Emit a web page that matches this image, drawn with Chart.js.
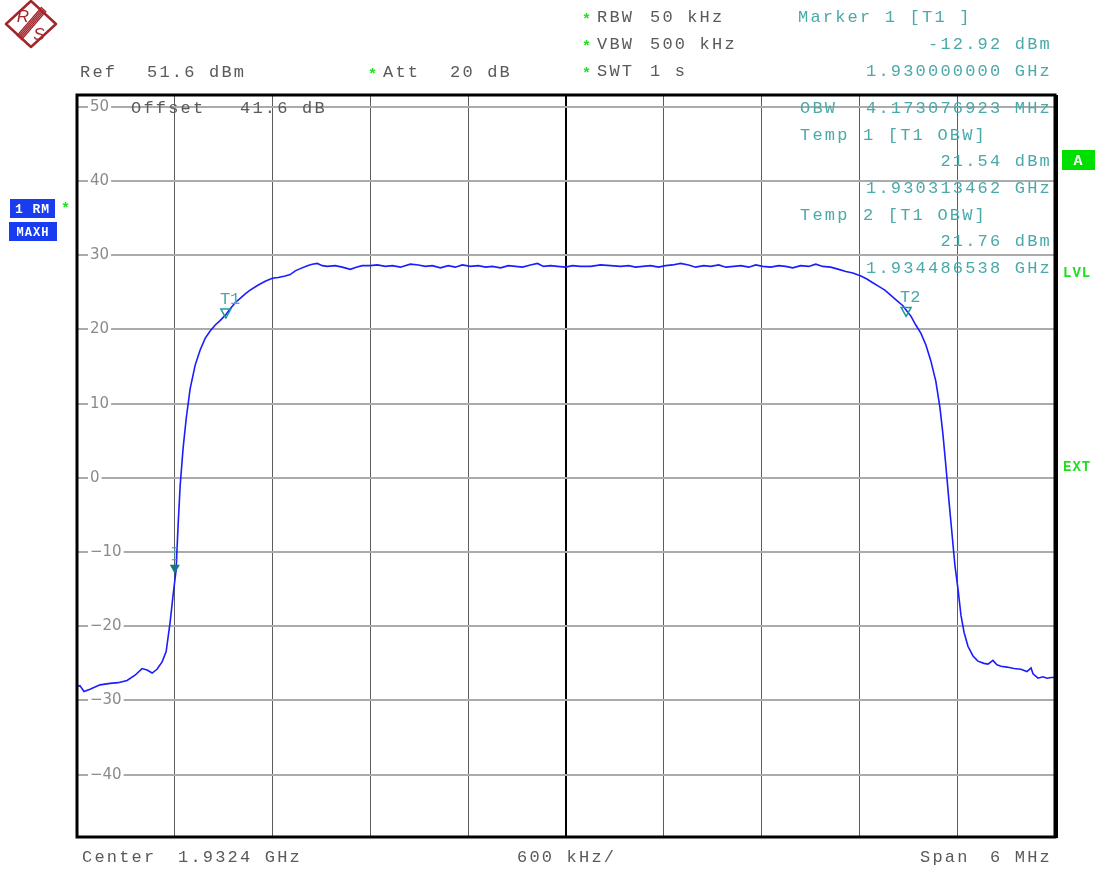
<!DOCTYPE html>
<html>
<head>
<meta charset="utf-8">
<title>Spectrum OBW</title>
<script src="https://cdn.jsdelivr.net/npm/chart.js@4.4.1/dist/chart.umd.min.js"></script>
<style>
  html, body { margin: 0; padding: 0; background: #fff; }
  #spec { display: block; }
</style>
</head>
<body>
<canvas id="spec" width="1105" height="871"></canvas>
<script>
// span 1.9294 .. 1.9354 GHz, 600 kHz/div
const startMHz = 1929.4
const spanMHz = 6
const divMHz = 0.6

// trace: offset from start (MHz) and level (dBm)
const traceOffsetMHz = [
  0, 0.018, 0.043, 0.080, 0.141, 0.203, 0.252, 0.307, 0.356, 0.399,
  0.430, 0.461, 0.491, 0.522, 0.547, 0.571, 0.590, 0.608, 0.620, 0.633,
  0.651, 0.670, 0.694, 0.725, 0.755, 0.786, 0.817, 0.848, 0.878, 0.909,
  0.940, 0.970, 1.001, 1.032, 1.062, 1.112, 1.155, 1.198, 1.234, 1.277,
  1.308, 1.339, 1.370, 1.413, 1.443, 1.474, 1.505, 1.535, 1.584, 1.627,
  1.677, 1.713, 1.750, 1.799, 1.842, 1.892, 1.935, 1.984, 2.045, 2.094,
  2.137, 2.180, 2.229, 2.278, 2.321, 2.364, 2.414, 2.463, 2.506, 2.549,
  2.598, 2.647, 2.690, 2.733, 2.782, 2.825, 2.862, 2.905, 2.948, 2.997,
  3.040, 3.089, 3.151, 3.212, 3.273, 3.335, 3.384, 3.427, 3.470, 3.519,
  3.568, 3.611, 3.654, 3.703, 3.752, 3.795, 3.845, 3.888, 3.937, 3.980,
  4.029, 4.072, 4.121, 4.164, 4.207, 4.256, 4.305, 4.348, 4.391, 4.440,
  4.489, 4.532, 4.575, 4.624, 4.673, 4.717, 4.760, 4.809, 4.846, 4.882,
  4.919, 4.956, 4.993, 5.030, 5.067, 5.091, 5.116, 5.146, 5.177, 5.208,
  5.238, 5.269, 5.294, 5.312, 5.331, 5.349, 5.368, 5.386, 5.405, 5.423,
  5.442, 5.466, 5.497, 5.527, 5.564, 5.589, 5.619, 5.644, 5.668, 5.705,
  5.748, 5.791, 5.828, 5.853, 5.865, 5.896, 5.926, 5.951, 5.976, 6.000
]
const traceDbm = [
  -28.1, -28.0, -28.8, -28.5, -27.9, -27.7, -27.6, -27.3, -26.6, -25.7,
  -25.9, -26.3, -25.8, -24.8, -23.4, -19.5, -15.7, -12.4, -6.5, -1.0,
  4.0, 8.0, 12.0, 15.2, 17.2, 18.8, 19.8, 20.6, 21.2, 21.9,
  22.8, 23.6, 24.2, 24.8, 25.3, 26.0, 26.5, 26.9, 27.0, 27.2,
  27.4, 27.9, 28.2, 28.6, 28.8, 28.9, 28.6, 28.5, 28.6, 28.4,
  28.1, 28.4, 28.6, 28.6, 28.7, 28.5, 28.6, 28.4, 28.8, 28.7,
  28.5, 28.6, 28.3, 28.6, 28.4, 28.7, 28.5, 28.6, 28.4, 28.5,
  28.3, 28.6, 28.5, 28.4, 28.7, 28.9, 28.5, 28.6, 28.5, 28.4,
  28.6, 28.5, 28.5, 28.7, 28.6, 28.5, 28.6, 28.4, 28.5, 28.6,
  28.4, 28.6, 28.7, 28.9, 28.7, 28.4, 28.6, 28.5, 28.7, 28.4,
  28.5, 28.6, 28.4, 28.7, 28.5, 28.4, 28.6, 28.5, 28.3, 28.6,
  28.5, 28.8, 28.5, 28.4, 28.1, 27.8, 27.6, 27.2, 26.8, 26.3,
  25.8, 25.3, 24.6, 23.9, 23.2, 22.5, 21.8, 20.6, 19.5, 17.9,
  15.8, 13.0, 9.5, 6.0, 1.5, -3.0, -7.5, -11.8, -15.0, -18.5,
  -20.8, -22.7, -24.0, -24.7, -25.0, -25.1, -24.6, -25.2, -25.4, -25.5,
  -25.7, -25.8, -26.1, -25.6, -26.4, -27.0, -26.8, -27.0, -26.9, -26.9
]

// markers: M1, T1, T2
const markerNames = ['M1', 'T1', 'T2']
const markerMHz = [1930.0, 1930.313462, 1934.486538]
const markerDbm = [-12.92, 21.54, 21.76]

// level axis: ref 51.6 dBm, 10 dB/div
const yTicks = [50, 40, 30, 20, 10, 0, -10, -20, -30, -40]
const refLevel = 51.6
const rangeDb = 100

const mono = '"Liberation Mono", "DejaVu Sans Mono", monospace'
const grey = '#5a5a5a'
const teal = '#4aa9a9'
const green = '#1ee01e'

function txt(ctx, s, x, y, color, align) {
  ctx.fillStyle = color
  ctx.textAlign = align || 'left'
  ctx.fillText(s, x, y)
}

function star(ctx, x, y) {
  ctx.save()
  ctx.font = 'bold 15px ' + mono
  ctx.letterSpacing = '0px'
  ctx.fillStyle = green
  ctx.textAlign = 'left'
  ctx.fillText('*', x, y)
  ctx.restore()
}

function logo(ctx) {
  ctx.save()
  ctx.translate(31, 24)
  ctx.strokeStyle = '#a3262c'
  ctx.fillStyle = '#a3262c'
  ctx.lineWidth = 2.5
  ctx.lineJoin = 'round'
  ctx.beginPath()
  ctx.moveTo(0, -23); ctx.lineTo(25, 0); ctx.lineTo(0, 23); ctx.lineTo(-25, 0)
  ctx.closePath()
  ctx.stroke()
  // diagonal band
  ctx.lineWidth = 1.2
  for (let k = -3; k <= 3; k += 1.5) {
    ctx.beginPath()
    ctx.moveTo(13 + k * 0.74, -15 + k * 0.67)
    ctx.lineTo(-12 + k * 0.74, 14 + k * 0.67)
    ctx.stroke()
  }
  ctx.font = 'italic 17px "Liberation Sans", sans-serif'
  ctx.textAlign = 'center'
  ctx.fillText('R', -8, -2)
  ctx.fillText('S', 8, 16)
  ctx.restore()
}

function box(ctx, x, y, w, h, bg, label, size) {
  ctx.fillStyle = bg
  ctx.fillRect(x, y, w, h)
  ctx.save()
  ctx.font = 'bold ' + size + 'px ' + mono
  ctx.letterSpacing = '1px'
  ctx.fillStyle = '#fff'
  ctx.textAlign = 'center'
  ctx.textBaseline = 'middle'
  ctx.fillText(label, x + w / 2, y + h / 2 + 1)
  ctx.restore()
}

const screenPlugin = {
  id: 'screen',
  afterDatasetsDraw(chart) {
    const ctx = chart.ctx
    const xs = chart.scales.x
    const ys = chart.scales.y
    ctx.save()
    markerNames.forEach((name, i) => {
      const px = xs.getPixelForValue(markerMHz[i])
      const py = ys.getPixelForValue(markerDbm[i])
      ctx.beginPath()
      ctx.moveTo(px, py)
      ctx.lineTo(px - 5, py - 9)
      ctx.lineTo(px + 5, py - 9)
      ctx.closePath()
      if (name === 'M1') {
        ctx.fillStyle = '#127a7a'
        ctx.fill()
        // small I-beam above the marker
        ctx.strokeStyle = '#3a9a9a'
        ctx.lineWidth = 1
        ctx.beginPath()
        ctx.moveTo(px, py - 26); ctx.lineTo(px, py - 14)
        ctx.moveTo(px - 3, py - 26); ctx.lineTo(px + 3, py - 26)
        ctx.moveTo(px - 3, py - 14); ctx.lineTo(px + 3, py - 14)
        ctx.stroke()
      } else {
        ctx.strokeStyle = '#1f9a9a'
        ctx.lineWidth = 1.5
        ctx.stroke()
        ctx.font = '17px ' + mono
        txt(ctx, name, px - 6, py - 14, teal, 'left')
      }
    })
    ctx.restore()
  },
  afterDraw(chart) {
    const ctx = chart.ctx
    const a = chart.chartArea
    ctx.save()

    // frame
    ctx.strokeStyle = '#000'
    ctx.lineWidth = 3
    ctx.strokeRect(a.left, a.top, a.right - a.left, a.bottom - a.top)
    ctx.lineWidth = 2
    ctx.beginPath()
    ctx.moveTo(a.right + 2, a.top); ctx.lineTo(a.right + 2, a.bottom + 1)
    ctx.stroke()

    logo(ctx)

    ctx.font = '17px ' + mono
    ctx.letterSpacing = '2.2px'
    ctx.textBaseline = 'alphabetic'

    // settings
    star(ctx, 582, 24); txt(ctx, 'RBW', 597, 22, grey); txt(ctx, '50 kHz', 650, 22, grey)
    star(ctx, 582, 51); txt(ctx, 'VBW', 597, 49, grey); txt(ctx, '500 kHz', 650, 49, grey)
    star(ctx, 582, 78); txt(ctx, 'SWT', 597, 76, grey); txt(ctx, '1 s', 650, 76, grey)
    txt(ctx, 'Ref', 80, 77, grey); txt(ctx, '51.6 dBm', 147, 77, grey)
    star(ctx, 368, 79); txt(ctx, 'Att', 383, 77, grey); txt(ctx, '20 dB', 450, 77, grey)
    txt(ctx, 'Offset', 131, 113, grey); txt(ctx, '41.6 dB', 240, 113, grey)

    // marker info
    txt(ctx, 'Marker 1 [T1 ]', 798, 22, teal)
    txt(ctx, '-12.92 dBm', 1052, 49, teal, 'right')
    txt(ctx, '1.930000000 GHz', 1052, 76, teal, 'right')
    txt(ctx, 'OBW', 800, 113, teal)
    txt(ctx, '4.173076923 MHz', 1052, 113, teal, 'right')
    txt(ctx, 'Temp', 800, 140, teal); txt(ctx, '1 [T1 OBW]', 863, 140, teal)
    txt(ctx, '21.54 dBm', 1052, 166, teal, 'right')
    txt(ctx, '1.930313462 GHz', 1052, 193, teal, 'right')
    txt(ctx, 'Temp', 800, 220, teal); txt(ctx, '2 [T1 OBW]', 863, 220, teal)
    txt(ctx, '21.76 dBm', 1052, 246, teal, 'right')
    txt(ctx, '1.934486538 GHz', 1052, 273, teal, 'right')

    // bottom line
    txt(ctx, 'Center', 82, 862, grey); txt(ctx, '1.9324 GHz', 178, 862, grey)
    txt(ctx, '600 kHz/', 517, 862, grey)
    txt(ctx, 'Span', 920, 862, grey); txt(ctx, '6 MHz', 1052, 862, grey, 'right')

    // trace / status boxes
    box(ctx, 10, 199, 45, 19, '#1a3cf0', '1 RM', 13)
    box(ctx, 9, 222, 48, 19, '#1a3cf0', 'MAXH', 12)
    star(ctx, 61, 213)
    box(ctx, 1062, 150, 33, 20, '#00e000', 'A', 15)
    ctx.font = 'bold 14px ' + mono
    ctx.letterSpacing = '1px'
    txt(ctx, 'LVL', 1063, 277, green)
    txt(ctx, 'EXT', 1063, 471, green)

    ctx.restore()
  }
}

window.addEventListener('DOMContentLoaded', () => {
  const points = traceOffsetMHz.map((o, i) => ({ x: startMHz + o, y: traceDbm[i] }))

  new Chart(document.getElementById('spec'), {
    type: 'line',
    data: {
      datasets: [{
        label: '1 RM MAXH',
        data: points,
        borderColor: '#1c1cff',
        borderWidth: 1.6,
        pointRadius: 0,
        tension: 0,
        fill: false
      }]
    },
    options: {
      responsive: false,
      animation: false,
      events: [],
      layout: { padding: { left: 77, right: 50, top: 95, bottom: 34 } },
      plugins: { legend: { display: false }, tooltip: { enabled: false } },
      scales: {
        x: {
          type: 'linear',
          min: startMHz,
          max: startMHz + spanMHz,
          afterBuildTicks: (s) => {
            const t = []
            for (let i = 0; i <= spanMHz / divMHz; i++) t.push({ value: startMHz + i * divMHz })
            s.ticks = t
          },
          afterFit: (s) => { s.height = 0 },
          ticks: { display: false },
          border: { display: false },
          grid: {
            drawTicks: false,
            color: (c) => c.index === 5 ? '#000' : '#5c5c5c',
            lineWidth: (c) => c.index === 5 ? 2 : 1
          }
        },
        y: {
          min: refLevel - rangeDb,
          max: refLevel,
          afterBuildTicks: (s) => { s.ticks = yTicks.map(v => ({ value: v })) },
          afterFit: (s) => { s.width = 0 },
          border: { display: false },
          grid: { drawTicks: false, color: '#ababab', lineWidth: 2 },
          ticks: {
            mirror: true,
            padding: 13,
            color: '#8a8a8a',
            font: { family: '"DejaVu Sans", sans-serif', size: 15 },
            showLabelBackdrop: true,
            backdropColor: '#fff',
            backdropPadding: { left: 2, right: 2, top: 0, bottom: 0 },
            callback: (v) => v < 0 ? '\u2212' + (-v) : String(v)
          }
        }
      }
    },
    plugins: [screenPlugin]
  })
})
</script>
</body>
</html>
